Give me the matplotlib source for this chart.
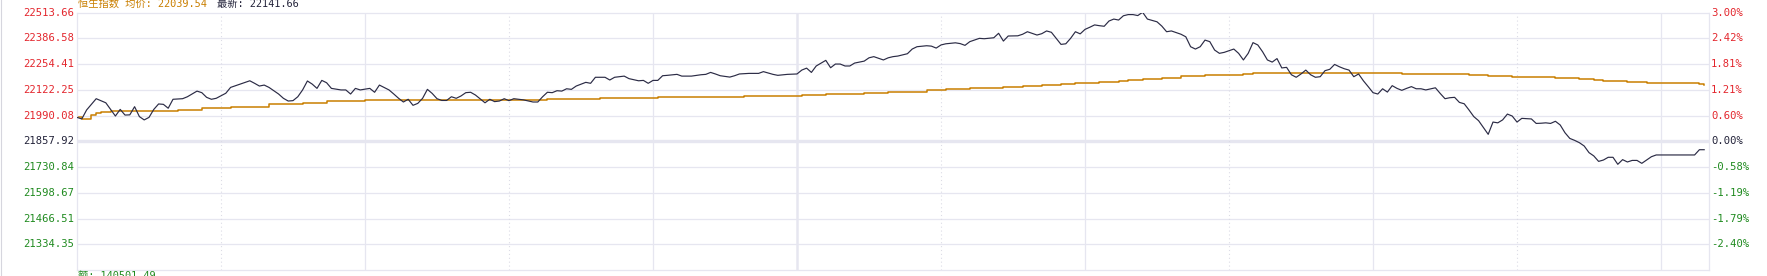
import matplotlib
matplotlib.use("Agg")
import matplotlib.pyplot as plt
from matplotlib.lines import Line2D

# ---------------- data ----------------
prev_close = 21857.92
grid_step = 132.16

left_labels = ["22513.66", "22386.58", "22254.41", "22122.25", "21990.08",
               "21857.92", "21730.84", "21598.67", "21466.51", "21334.35"]
right_labels = ["3.00%", "2.42%", "1.81%", "1.21%", "0.60%",
                "0.00%", "-0.58%", "-1.19%", "-1.79%", "-2.40%"]

# minutes since 09:30 in trading time (12:00 and 13:00 share index 150)
minute = [0, 1, 2, 4, 6, 8, 9, 10, 11, 12,
          13, 14, 15, 16, 17, 18, 19, 20, 22, 23,
          25, 26, 27, 28, 29, 31, 32, 34, 35, 36,
          37, 38, 39, 40, 42, 43, 44, 45, 46, 47,
          48, 49, 50, 51, 52, 53, 55, 56, 57, 58,
          59, 60, 61, 62, 63, 65, 66, 67, 68, 69,
          70, 71, 72, 73, 74, 75, 76, 77, 78, 79,
          80, 81, 82, 83, 85, 86, 87, 88, 89, 90,
          91, 92, 93, 95, 96, 97, 98, 99, 100, 101,
          102, 103, 104, 106, 107, 108, 110, 111, 112, 114,
          115, 117, 118, 119, 120, 121, 122, 123, 125, 126,
          128, 130, 131, 132, 133, 134, 136, 137, 138, 140,
          142, 143, 144, 145, 146, 148, 150, 151, 152, 153,
          154, 156, 157, 158, 159, 160, 161, 162, 164, 165,
          166, 168, 169, 170, 171, 173, 174, 175, 177, 178,
          179, 180, 181, 183, 184, 185, 186, 188, 189, 191,
          192, 193, 194, 196, 197, 198, 200, 201, 202, 203,
          204, 205, 206, 207, 208, 209, 210, 211, 212, 213,
          214, 215, 216, 217, 218, 219, 220, 221, 222, 223,
          225, 226, 227, 228, 230, 231, 232, 233, 234, 235,
          236, 237, 238, 239, 241, 242, 243, 244, 245, 246,
          247, 248, 249, 250, 251, 252, 253, 254, 255, 256,
          257, 258, 259, 260, 261, 262, 263, 264, 265, 266,
          267, 268, 269, 270, 271, 272, 273, 274, 275, 276,
          277, 278, 279, 280, 281, 283, 284, 285, 286, 287,
          288, 289, 290, 291, 292, 294, 295, 296, 297, 298,
          299, 300, 301, 303, 304, 305, 306, 307, 308, 309,
          310, 311, 312, 313, 314, 315, 316, 317, 318, 319,
          320, 321, 322, 323, 324, 325, 326, 328, 329, 337,
          338, 339]
price = [21981, 21973, 22019, 22077, 22056, 21988, 22022, 21993, 21994, 22036,
         21985, 21968, 21981, 22022, 22050, 22048, 22028, 22074, 22077, 22087,
         22116, 22108, 22084, 22074, 22079, 22105, 22135, 22152, 22160, 22169,
         22156, 22142, 22147, 22135, 22101, 22079, 22065, 22067, 22087, 22122,
         22168, 22152, 22130, 22171, 22159, 22130, 22122, 22122, 22101, 22130,
         22122, 22126, 22130, 22110, 22147, 22122, 22101, 22079, 22060, 22074,
         22043, 22053, 22079, 22125, 22104, 22077, 22068, 22068, 22087, 22079,
         22091, 22108, 22110, 22096, 22056, 22074, 22062, 22065, 22077, 22067,
         22077, 22074, 22071, 22060, 22060, 22087, 22110, 22108, 22118, 22116,
         22128, 22125, 22142, 22161, 22156, 22187, 22187, 22173, 22187, 22193,
         22180, 22169, 22171, 22156, 22171, 22171, 22195, 22197, 22202, 22193,
         22193, 22200, 22202, 22212, 22204, 22195, 22188, 22195, 22204, 22207,
         22207, 22216, 22209, 22202, 22197, 22202, 22204, 22224, 22234, 22212,
         22245, 22274, 22236, 22255, 22255, 22245, 22245, 22260, 22270, 22287,
         22293, 22276, 22287, 22293, 22296, 22308, 22332, 22344, 22349, 22347,
         22337, 22353, 22359, 22364, 22360, 22351, 22370, 22387, 22385, 22390,
         22413, 22373, 22399, 22400, 22408, 22421, 22404, 22411, 22425, 22418,
         22387, 22356, 22359, 22387, 22421, 22410, 22433, 22444, 22456, 22452,
         22449, 22476, 22486, 22481, 22503, 22509, 22509, 22504, 22521, 22486,
         22472, 22450, 22421, 22425, 22408, 22395, 22344, 22332, 22344, 22378,
         22370, 22327, 22310, 22315, 22332, 22310, 22276, 22310, 22365, 22353,
         22318, 22276, 22265, 22283, 22235, 22238, 22200, 22187, 22204, 22224,
         22200, 22187, 22190, 22221, 22228, 22253, 22241, 22231, 22224, 22190,
         22204, 22169, 22139, 22108, 22101, 22128, 22111, 22144, 22130, 22120,
         22130, 22139, 22128, 22128, 22122, 22133, 22104, 22077, 22082, 22084,
         22058, 22051, 22019, 21985, 21964, 21894, 21957, 21953, 21968, 21998,
         21988, 21957, 21976, 21973, 21950, 21951, 21953, 21950, 21961, 21942,
         21902, 21873, 21863, 21851, 21834, 21800, 21783, 21755, 21762, 21776,
         21776, 21740, 21764, 21752, 21760, 21760, 21745, 21779, 21788, 21788,
         21815, 21815]

avg_minute = [0, 1, 3, 4, 5, 7, 21, 26, 32, 40, 47, 52, 60, 98, 109, 121, 139,
              151, 156, 164, 169, 177, 181, 186, 193, 197, 201, 205, 208, 213,
              217, 219, 222, 226, 230, 235, 243, 245, 276, 290, 294, 299, 308,
              313, 316, 318, 323, 327, 338, 339]
avg_price = [21981, 21975, 21993, 22003, 22010, 22012, 22019, 22028, 22036,
             22050, 22055, 22065, 22069, 22074, 22079, 22085, 22091, 22098,
             22100, 22106, 22111, 22120, 22125, 22132, 22137, 22142, 22147,
             22152, 22157, 22162, 22168, 22173, 22180, 22185, 22192, 22199,
             22202, 22207, 22203, 22197, 22192, 22187, 22182, 22176, 22171,
             22166, 22161, 22156, 22150, 22145]

title_name = "恒生指数 均价: 22039.54"
title_last = "最新: 22141.66"
bottom_text = "额: 140501.49"

solid_minutes = [60, 120, 210, 270, 330]
dotted_minutes = [30, 90, 180, 240, 300]
midday_minute = 150
session_end = 340

# ---------------- style ----------------
W, H = 1767, 276
GRID = "#e6e6f0"
RED = "#e3262d"
GREEN = "#1f8a1f"
DARK = "#23233a"
LINE = "#2b2b45"
ORANGE = "#c97f00"
MONO = ["DejaVu Sans Mono", "Noto Sans CJK SC"]

fig = plt.figure(figsize=(W / 100, H / 100), dpi=100)
fig.patch.set_facecolor("white")
ax = fig.add_axes([77 / W, 6 / H, 1632 / W, 257.3 / H])
ax.set_facecolor("white")

ymin = prev_close - 5 * grid_step
ymax = prev_close + 5 * grid_step
ax.set_xlim(0, session_end)
ax.set_ylim(ymin, ymax)

# horizontal grid
for k in range(-4, 5):
    y = prev_close + k * grid_step
    ax.axhline(y, color=GRID, lw=2.4 if k == 0 else 0.9, zorder=1)

# vertical grid
for m in solid_minutes:
    ax.axvline(m, color=GRID, lw=0.9, zorder=1)
ax.axvline(midday_minute, color=GRID, lw=1.8, zorder=1)
for m in dotted_minutes:
    ax.axvline(m, color="#dcdce6", lw=0.8, ls=(0, (1, 2.5)), zorder=1)

# series
ax.step(avg_minute, avg_price, where="post", color=ORANGE, lw=1.1, zorder=2)
ax.plot(minute, price, color=LINE, lw=0.85, zorder=3)

for s in ax.spines.values():
    s.set_color(GRID)
    s.set_linewidth(0.9)

ax.set_xticks([])
tick_pos = [prev_close + k * grid_step for k in range(5, -5, -1)]
ax.set_yticks(tick_pos, left_labels)
ax.tick_params(axis="y", length=0, pad=2.2, labelsize=7.6)
colors = [RED] * 5 + [DARK] + [GREEN] * 4
for lab, c in zip(ax.get_yticklabels(), colors):
    lab.set_color(c)
    lab.set_family(MONO)
    lab.set_verticalalignment("center")

ax2 = ax.twinx()
ax2.set_ylim(ymin, ymax)
ax2.set_yticks(tick_pos, right_labels)
ax2.tick_params(axis="y", length=0, pad=1.6, labelsize=7.6)
for lab, c in zip(ax2.get_yticklabels(), colors):
    lab.set_color(c)
    lab.set_family(MONO)
    lab.set_verticalalignment("center")
for s in ax2.spines.values():
    s.set_visible(False)

# header and footer texts
fig.text(77.5 / W, 1 - 3.5 / H, title_name, color=ORANGE, fontsize=7.4,
         family=MONO, ha="left", va="center")
fig.text(217 / W, 1 - 3.5 / H, title_last, color=DARK, fontsize=7.4,
         family=MONO, ha="left", va="center")
fig.text(77.5 / W, 1 - 271 / H, bottom_text, color=GREEN, fontsize=7.4,
         family=MONO, ha="left", va="top")

# faint frame line at the far left edge
fig.add_artist(Line2D([0.8 / W, 0.8 / W], [0, 1], color="#d6d6de", lw=0.8))

fig.savefig("out.png", dpi=100, facecolor="white")
